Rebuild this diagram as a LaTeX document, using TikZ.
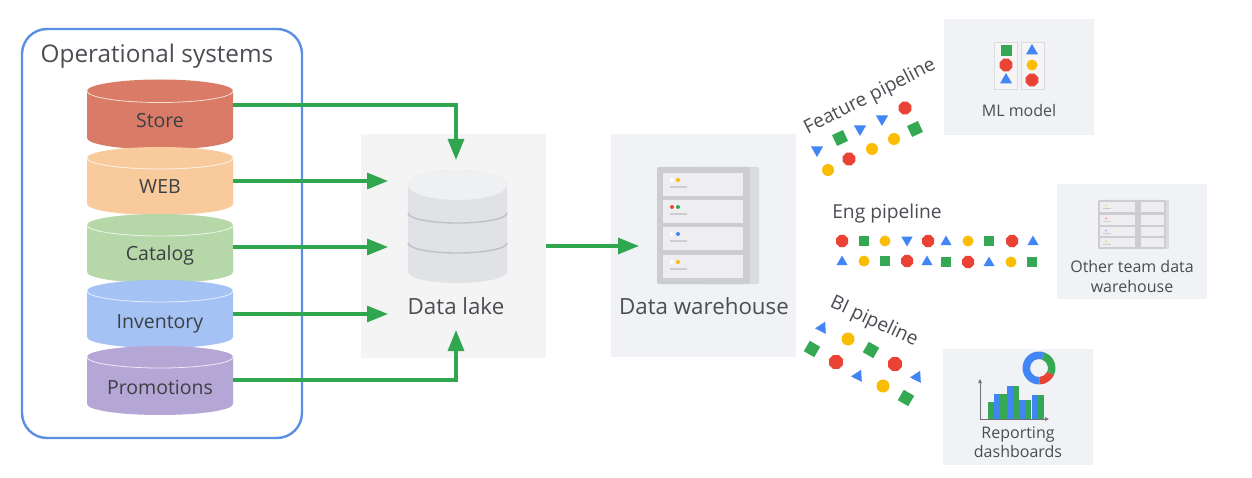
\documentclass[tikz,border=0pt]{standalone}
\usepackage{fontspec}
\setmainfont{Open Sans}
\usetikzlibrary{arrows.meta}
\definecolor{gblue}{HTML}{4285F4}
\definecolor{ggreen}{HTML}{34A853}
\definecolor{gred}{HTML}{EA4335}
\definecolor{gyellow}{HTML}{FBBC04}
\definecolor{arrowgreen}{HTML}{30A650}
\definecolor{boxblue}{HTML}{5B8FE3}
\definecolor{ink}{HTML}{3C4043}
\definecolor{softink}{HTML}{4A4D52}
\definecolor{panelA}{HTML}{F4F4F5}
\definecolor{panelB}{HTML}{F0F2F6}
\definecolor{srvdark}{HTML}{CBCDD1}
\definecolor{srvback}{HTML}{DADCE0}
\definecolor{srvslot}{HTML}{EEEEF0}
\definecolor{lakebody}{HTML}{E1E2E6}
\definecolor{laketop}{HTML}{EFF0F2}
\definecolor{lakeband}{HTML}{BFC1C6}
\definecolor{cstore}{HTML}{D97B67}
\definecolor{cweb}{HTML}{F9CB9C}
\definecolor{ccat}{HTML}{B6D7A8}
\definecolor{cinv}{HTML}{A4C2F4}
\definecolor{cpro}{HTML}{B4A7D6}
\tikzset{
  flow/.style={draw=arrowgreen,line width=3.2pt,-{Triangle[length=21pt,width=16pt]}},
  panel/.style={inner sep=0pt,outer sep=0pt},
  cyllabel/.style={inner sep=0pt,minimum width=146pt,text height=14pt,text depth=4pt,text=ink,font=\fontsize{19.5}{22}\selectfont},
  biglabel/.style={inner sep=0pt,text=softink,font=\fontsize{22.3}{25}\selectfont},
  midlabel/.style={inner sep=0pt,text=softink,font=\fontsize{19.2}{22}\selectfont},
  smalllabel/.style={inner sep=0pt,align=center,text=softink,font=\fontsize{16}{20}\selectfont},
}
% cylinder in the operational stack
\newcommand{\opcyl}[7]{%
  \fill[#5] (87,#2) -- (87,#3) arc[start angle=180,end angle=360,x radius=73pt,y radius=#4pt]
     -- (233,#2) arc[start angle=0,end angle=180,x radius=73pt,y radius=#4pt] -- cycle;
  \draw[white,opacity=.75,line width=.8pt] (87,#2) arc[start angle=180,end angle=360,x radius=73pt,y radius=#4pt];
  \node[cyllabel] (#1) at (160,#7) {#6};
}
\newcommand{\gsq}[5][ggreen]{\fill[#1,shift={(#2,#3)},rotate=#4] (-#5,-#5) rectangle (#5,#5);}
\newcommand{\gci}[3]{\fill[gyellow] (#1,#2) circle[radius=#3pt];}
\newcommand{\goc}[3]{\fill[gred,shift={(#1,#2)}] (22.5:#3pt) -- (67.5:#3pt) -- (112.5:#3pt) -- (157.5:#3pt) -- (202.5:#3pt) -- (247.5:#3pt) -- (292.5:#3pt) -- (337.5:#3pt) -- cycle;}
\newcommand{\gtr}[4]{\fill[gblue,shift={(#1,#2)}] (#3:#4pt) -- (#3+120:#4pt) -- (#3+240:#4pt) -- cycle;}
\newcommand{\srvslot}[2]{%
  \fill[srvslot] (663,#1) rectangle (743,#1+23);
  \fill[white] (672,#1+7) circle[radius=2pt];
  \fill[#2] (678,#1+7) circle[radius=2pt];
  \fill[srvdark] (670,#1+13) rectangle (687,#1+15);
}
\begin{document}
\begin{tikzpicture}[x=1pt,y=-1pt]
\useasboundingbox (0,0) rectangle (1252,478);
\fill[white] (0,0) rectangle (1252,478);

% operational systems
\node[panel,draw=boxblue,line width=2.4pt,rounded corners=25pt,minimum width=280pt,minimum height=409pt] (ops) at (162,233.5) {};
\node[biglabel,font=\fontsize{24.3}{26}\selectfont] (opstitle) at (157,56) {Operational systems};
\opcyl{store}{91}{138}{11.5}{cstore}{Store}{123}
\opcyl{web}{158}{204}{11}{cweb}{WEB}{189}
\opcyl{catalog}{225}{272}{11}{ccat}{Catalog}{256}
\opcyl{inventory}{291}{337}{11}{cinv}{Inventory}{323}
\opcyl{promotions}{357}{404}{11}{cpro}{Promotions}{389}

% data lake
\node[panel,fill=panelA,minimum width=185pt,minimum height=224pt] (lake) at (453.5,246) {};
\fill[lakebody] (408,185) -- (408,272) arc[start angle=180,end angle=360,x radius=49.5pt,y radius=11pt]
   -- (507,185) arc[start angle=0,end angle=180,x radius=49.5pt,y radius=15pt] -- cycle;
\fill[laketop] (457.5,185) ellipse[x radius=49.5pt,y radius=15pt];
\draw[lakeband,line width=1.4pt] (408,213) arc[start angle=180,end angle=360,x radius=49.5pt,y radius=10pt];
\draw[lakeband,line width=1.4pt] (408,243) arc[start angle=180,end angle=360,x radius=49.5pt,y radius=10pt];
\node[biglabel] (lakelabel) at (456,306) {Data lake};
\coordinate (lakeN) at (456,160);
\coordinate (lakeW1) at (388,181);
\coordinate (lakeW2) at (388,247);
\coordinate (lakeW3) at (388,314);
\coordinate (lakeS) at (456,330);

% data warehouse
\node[panel,fill=panelB,minimum width=185pt,minimum height=223pt] (dw) at (703.5,245.5) {};
\fill[srvback,rounded corners=2pt] (700,167) rectangle (759,284);
\fill[srvdark,rounded corners=2pt] (657,167) rectangle (750,284);
\srvslot{173}{gyellow}
\srvslot{200}{ggreen}
\fill[gred] (672,207) circle[radius=2pt];
\srvslot{227}{gblue}
\srvslot{255}{gyellow}
\node[biglabel] (dwlabel) at (704,306) {Data warehouse};
\coordinate (dwW) at (639,246);

% connectors
\draw[flow] ([yshift=18pt]store.east) -| (lakeN);
\draw[flow] (web.east |- lakeW1) -- (lakeW1);
\draw[flow] (catalog.east |- lakeW2) -- (lakeW2);
\draw[flow] (inventory.east |- lakeW3) -- (lakeW3);
\draw[flow] ([yshift=9pt]promotions.east) -| (lakeS);
\draw[flow] (lake.east |- dwW) -- (dwW);

% ML model
\node[panel,fill=panelB,minimum width=150pt,minimum height=116pt] (ml) at (1019,77) {};
\draw[srvback,fill=srvslot!60!white,line width=.8pt] (994,42) rectangle (1017,89);
\draw[srvback,fill=srvslot!60!white,line width=.8pt] (1021,42) rectangle (1044,89);
\gsq{1006}{51}{0}{5.5}
\goc{1006}{65}{6.8}
\gtr{1006}{80}{90}{7}
\gtr{1032}{51}{90}{7}
\gci{1032}{65}{5.5}
\goc{1032}{80}{6.8}
\node[smalllabel] (mllabel) at (1019,111) {ML model};

% feature pipeline
\node[midlabel,rotate=27] (feat) at (870,97) {Feature pipeline};
\gtr{817}{150}{-90}{7}
\gsq{840}{138}{25}{6}
\gtr{860}{129}{-90}{7}
\gtr{882}{119}{-90}{7}
\goc{905}{108}{6.8}
\gci{828}{170}{6}
\goc{849}{159}{6.8}
\gci{872}{149}{6}
\gci{894}{139}{6}
\gsq{915}{129}{25}{6}

% eng pipeline
\node[midlabel] (eng) at (887,214) {Eng pipeline};
\goc{842}{241}{6.5}
\gsq{864}{241}{0}{5}
\gci{885}{241}{5.5}
\gtr{907}{240}{-90}{6.5}
\goc{928}{241}{6.5}
\gtr{946}{242}{90}{6.5}
\gci{968}{241}{5.5}
\gsq{989}{241}{0}{5}
\goc{1012}{241}{6.5}
\gtr{1033}{242}{90}{6.5}
\gtr{842}{262}{90}{6.5}
\gci{864}{261}{5.5}
\gsq{885}{261}{0}{5}
\goc{907}{261}{6.5}
\gtr{927}{262}{90}{6.5}
\gsq{946}{262}{0}{5}
\goc{968}{262}{6.5}
\gtr{989}{263}{90}{6.5}
\gci{1011}{262}{5.5}
\gsq{1032}{262}{0}{5}

% other team data warehouse
\node[panel,fill=panelB,minimum width=150pt,minimum height=115pt] (other) at (1132,241.5) {};
\fill[srvdark,rounded corners=1pt] (1098,200) rectangle (1166,249);
\fill[srvback] (1166,200) rectangle (1169,249);
\foreach \ya/\yb/\dotc in {202/212/gyellow,215/225/gred,227/236/gblue,238/247/gyellow}{
  \fill[srvslot] (1100,\ya) rectangle (1135,\yb);
  \fill[srvslot] (1141,\ya) rectangle (1164,\yb);
  \fill[\dotc!60!white] (1106,\ya+3.5) circle[radius=1.2pt];
  \fill[srvdark] (1103,\ya+6) rectangle (1111,\ya+7);
}
\node[smalllabel] (otherlabel) at (1132,276) {Other team data\\warehouse};

% BI pipeline
\node[midlabel,rotate=-25] (bi) at (874,322) {BI pipeline};
\gtr{822}{328}{63}{7}
\gci{848}{339}{6.5}
\gsq{871}{350}{-30}{6}
\gsq{812}{349}{-30}{6}
\goc{836}{362}{7.5}
\goc{895}{364}{7.5}
\gtr{858}{376}{63}{7}
\gtr{917}{377}{63}{7}
\gci{883}{386}{6.5}
\gsq{906}{398}{-30}{6}

% reporting dashboards
\node[panel,fill=panelB,minimum width=150pt,minimum height=116pt] (rep) at (1018,407) {};
\fill[gblue] (1039,368) ++(70:16.5pt) arc[start angle=70,end angle=272,radius=16.5pt] -- ++(92:7.5pt) arc[start angle=272,end angle=70,radius=9pt] -- cycle;
\fill[gred] (1039,368) ++(272:16.5pt) arc[start angle=272,end angle=335,radius=16.5pt] -- ++(155:7.5pt) arc[start angle=335,end angle=272,radius=9pt] -- cycle;
\fill[ggreen] (1039,368) ++(-25:16.5pt) arc[start angle=-25,end angle=70,radius=16.5pt] -- ++(250:7.5pt) arc[start angle=70,end angle=-25,radius=9pt] -- cycle;
\foreach \xa/\xb/\ytop/\barc in {987.5/993.5/402/ggreen,994/1000/394/gblue,1000/1006.5/394/ggreen,1007/1013/386/gblue,1013/1019/386/ggreen,1019/1025/400/gblue,1025/1031/400/ggreen,1031.5/1037/395/gblue,1037/1043.5/395/ggreen}{
  \fill[\barc] (\xa,\ytop) rectangle (\xb,419);
}
\draw[softink!80!white,line width=.8pt,-{Triangle[length=4pt,width=3.5pt]}] (980,419) -- (980,379);
\draw[softink!80!white,line width=.8pt,-{Triangle[length=4pt,width=3.5pt]}] (980,419) -- (1049,419);
\node[smalllabel,font=\fontsize{16}{19}\selectfont] (replabel) at (1018,442.5) {Reporting\\dashboards};
\end{tikzpicture}
\end{document}
